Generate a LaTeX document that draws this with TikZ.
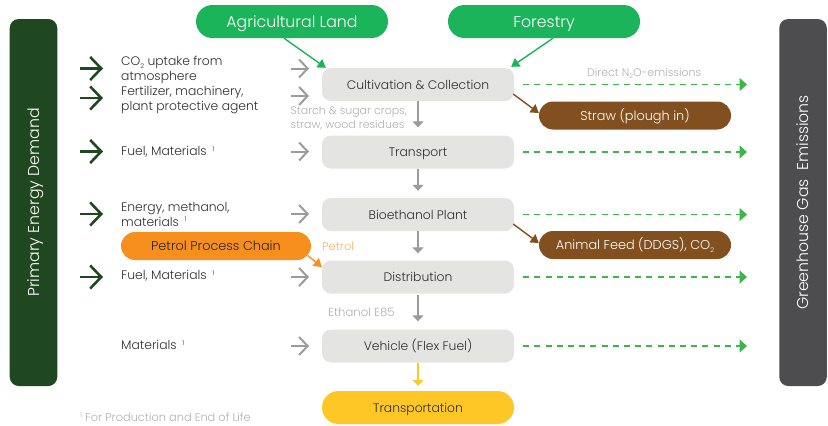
\documentclass[tikz,border=0pt]{standalone}
\usepackage{fontspec}
\setmainfont{Poppins Light}
\usetikzlibrary{arrows.meta,calc}
\definecolor{darkgreen}{HTML}{204820}
\definecolor{slatebar}{HTML}{4D4D4F}
\definecolor{leaf}{HTML}{1BB45A}
\definecolor{boxgrey}{HTML}{E4E4E3}
\definecolor{brownc}{HTML}{82501E}
\definecolor{orangec}{HTML}{F78F1E}
\definecolor{yellowc}{HTML}{FFC726}
\definecolor{dashgreen}{HTML}{3DB54A}
\definecolor{arrowgrey}{HTML}{9B9B9B}
\definecolor{labelgrey}{HTML}{B0B0B0}
\definecolor{bodytext}{HTML}{2E2E2E}
\newcommand{\lowsub}[1]{\raisebox{-0.25em}{\fontsize{6.5}{6.5}\selectfont #1}}
\newcommand{\highsup}[1]{\raisebox{0.35em}{\fontsize{6.5}{6.5}\selectfont #1}}
\begin{document}
\begin{tikzpicture}[x=1bp,y=-1bp,
  txt/.style={font=\fontsize{12.4}{15}\selectfont,text=bodytext},
  side/.style={txt,anchor=west,align=left,inner sep=0pt},
  stage/.style={txt,fill=boxgrey,rounded corners=9bp,minimum width=192bp,minimum height=33bp,inner sep=0pt,text height=11bp,text depth=2bp},
  pill/.style={font=\fontsize{12.9}{15}\selectfont,rounded corners=14bp,minimum width=192bp,minimum height=28bp,inner sep=0pt,text height=11bp,text depth=2bp},
  topnode/.style={fill=leaf,text=white,rounded corners=16.5bp,minimum width=192bp,minimum height=33bp,inner sep=0pt,font=\fontsize{15.8}{15}\selectfont,text height=14bp,text depth=2bp},
  bar/.style={rounded corners=9bp,minimum width=47.5bp,minimum height=367bp,inner sep=0pt},
  bartext/.style={text=white,font=\fontsize{15.8}{15}\selectfont,rotate=90,inner sep=0pt,text height=13bp,text depth=2bp},
  greylabel/.style={font=\fontsize{11}{14}\selectfont,text=labelgrey,inner sep=0pt,align=left},
  inflow/.style={draw=darkgreen,line width=2.6bp,-{Straight Barb[length=11bp,width=23bp,line width=2.6bp]}},
  inflowgrey/.style={draw=arrowgrey,line width=2bp,-{Straight Barb[length=8.5bp,width=18bp,line width=2bp]}},
  downflow/.style={draw=arrowgrey,line width=1.3bp,-{Triangle[length=6bp,width=11bp]}},
  emission/.style={draw=dashgreen,line width=1.4bp,dash pattern=on 6bp off 5.2bp,-{Triangle[length=7.5bp,width=13bp,sep=0pt]}},
  feed/.style={line width=1.4bp,-{Triangle[length=8bp,width=10bp]}}
]
\useasboundingbox (0,0) rectangle (828,425);
% side bars
\node[bar,fill=darkgreen] (ped) at (33.5,202.5) {};
\node[bartext] (pedt) at (ped.center) {Primary Energy Demand};
\node[bar,fill=slatebar] (ghg) at (803,202.5) {};
\node[bartext] (ghgt) at (ghg.center) {Greenhouse Gas\hspace{0.55em}Emissions};
% top nodes
\node[topnode] (agri) at (292,21.5) {Agricultural Land};
\node[topnode] (forest) at (544,21.5) {Forestry};
% stages
\node[stage] (cult) at (418,84.5) {Cultivation \& Collection};
\node[stage] (trans) at (418,152) {Transport};
\node[stage] (bio) at (418,214.5) {Bioethanol Plant};
\node[stage] (dist) at (418,277) {Distribution};
\node[stage] (veh) at (418,346) {Vehicle (Flex Fuel)};
\node[stage,fill=yellowc,rounded corners=16.5bp] (tp) at (418,407.5) {Transportation};
% side products
\node[pill,fill=brownc,text=white] (straw) at (635,115.5) {Straw (plough in)};
\node[pill,fill=brownc,text=white] (feedn) at (635,245) {Animal Feed (DDGS), CO\lowsub{2}};
\node[pill,fill=orangec,text=black!85,minimum width=190bp] (ppc) at (216,246) {Petrol Process Chain};
% input texts
\node[side] (t1) at (121,69.5) {CO\lowsub{2} uptake from\\atmosphere};
\node[side] (t2) at (121,100) {Fertilizer, machinery,\\plant protective agent};
\node[side] (t3) at (121,152) {Fuel, Materials\hspace{0.45em}\highsup{1}};
\node[side] (t4) at (121,214) {Energy, methanol,\\materials\hspace{0.45em}\highsup{1}};
\node[side] (t5) at (121,276) {Fuel, Materials\hspace{0.45em}\highsup{1}};
\node[side] (t6) at (121,345) {Materials\hspace{0.45em}\highsup{1}};
% grey labels
\node[greylabel,anchor=west] (l1) at (290.5,118.5) {Starch \& sugar crops,\\straw, wood residues};
\node[greylabel,anchor=west] (l2) at (587,73.5) {Direct N\lowsub{2}O-emissions};
\node[greylabel,anchor=west,text=orangec!70,font=\fontsize{11.5}{14}\selectfont] (l3) at (322,246) {Petrol};
\node[greylabel,anchor=west,font=\fontsize{11.7}{14}\selectfont] (l4) at (328,312.5) {Ethanol E85};
\node[greylabel,anchor=west,font=\fontsize{11.4}{14}\selectfont] (l5) at (80,417) {\highsup{1} For Production and End of Life};
% free-end coordinates
\foreach \n/\y in {a/68.5,b/98,c/151.5,d/214,e/277}{
  \coordinate (gs\n) at (80,\y);
  \coordinate (ge\n) at (103,\y);
}
\foreach \n/\y in {a/68.5,b/96,c/151.5,d/214,e/277,f/346}{
  \coordinate (hs\n) at (291,\y);
  \coordinate (he\n) at (309,\y);
}
\coordinate (e1) at (747,84.5);
\coordinate (e2) at (747,152);
\coordinate (e3) at (747,214.5);
\coordinate (e4) at (747,277);
\coordinate (e5) at (747,346);
% dark green input arrows
\foreach \n in {a,b,c,d,e}{\draw[inflow] (gs\n) -- (ge\n);}
% grey input arrows
\foreach \n in {a,b,c,d,e,f}{\draw[inflowgrey] (hs\n) -- (he\n);}
% main flow
\draw[downflow,shorten >=8bp] (cult.south) -- (trans.north);
\draw[downflow,shorten >=7bp] (trans.south) -- (bio.north);
\draw[downflow,shorten >=7bp] (bio.south) -- (dist.north);
\draw[downflow,shorten <=1.5bp,shorten >=8bp] (dist.south) -- (veh.north);
\draw[downflow,draw=yellowc,shorten >=5bp,-{Triangle[length=6bp,width=11bp,color=yellowc]}] (veh.south) -- (tp.north);
% emissions
\draw[emission,shorten <=9bp] (cult.east) -- (e1);
\draw[emission,shorten <=9bp] (trans.east) -- (e2);
\draw[emission,shorten <=9bp] (bio.east) -- (e3);
\draw[emission,shorten <=9bp] (dist.east) -- (e4);
\draw[emission,shorten <=9bp] (veh.east) -- (e5);
% diagonal feeds
\draw[feed,draw=leaf,-{Triangle[length=8bp,width=10bp,color=leaf]}] ($(agri.south)+(-8,0)$) -- ($(cult.north west)+(4,0)$);
\draw[feed,draw=leaf,-{Triangle[length=8bp,width=10bp,color=leaf]}] ($(forest.south)+(9,0)$) -- ($(cult.north east)+(-3,-1)$);
\draw[feed,draw=brownc,-{Triangle[length=8bp,width=10bp,color=brownc]}] ($(cult.east)+(-1,9.5)$) -- ($(straw.west)+(0,-2.5)$);
\draw[feed,draw=brownc,-{Triangle[length=8bp,width=10bp,color=brownc]}] ($(bio.east)+(-1,9.5)$) -- ($(feedn.west)+(0,-2)$);
\draw[feed,draw=orangec,-{Triangle[length=8bp,width=10bp,color=orangec]}] ($(ppc.east)+(-3.5,9.5)$) -- ($(dist.west)+(0,-10)$);
\end{tikzpicture}
\end{document}
